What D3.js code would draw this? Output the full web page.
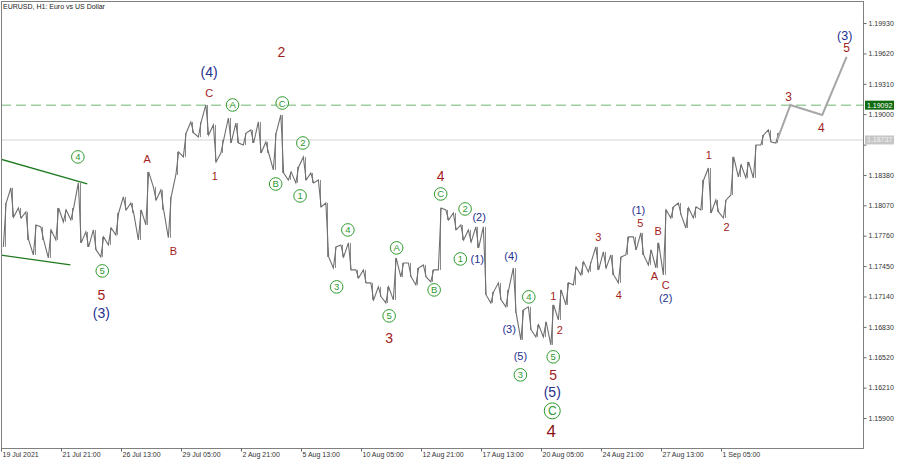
<!DOCTYPE html>
<html>
<head>
<meta charset="utf-8">
<script src="https://cdn.jsdelivr.net/npm/d3@7"></script>
<style>
  body { margin: 0; background: #fff; }
  svg { display: block; }
  text { font-family: "Liberation Sans", Arial, sans-serif; }
</style>
</head>
<body>
<div id="chart"></div>
<script>
// price data, EURUSD H1, one high/low pair per 8 hourly bars
const barsPerChunk = 8;
const highs = [1.18094, 1.18248, 1.18043, 1.18003, 1.17870, 1.17850, 1.17819, 1.18043, 1.18023, 1.18043,
  1.18299, 1.17799, 1.17819, 1.17748, 1.17839, 1.17992, 1.18156, 1.18094, 1.18023, 1.18411,
  1.18258, 1.18227, 1.18156, 1.18615, 1.18808, 1.18921, 1.18921, 1.19094, 1.18890, 1.18737,
  1.18961, 1.18910, 1.18808, 1.18839, 1.18921, 1.18717, 1.18808, 1.18992, 1.18411, 1.18462,
  1.18564, 1.18400, 1.18329, 1.18094, 1.17646, 1.17666, 1.17687, 1.17411, 1.17411, 1.17279,
  1.17238, 1.17238, 1.17533, 1.17482, 1.17482, 1.17431, 1.17462, 1.17411, 1.18043, 1.18023,
  1.17992, 1.17870, 1.17819, 1.17850, 1.17850, 1.17187, 1.17279, 1.17207, 1.17431, 1.17003,
  1.17034, 1.16850, 1.16881, 1.17054, 1.17207, 1.17279, 1.17441, 1.17493, 1.17493, 1.17646,
  1.17595, 1.17564, 1.17544, 1.17748, 1.17748, 1.17789, 1.17615, 1.17687, 1.18023, 1.18054,
  1.18094, 1.18043, 1.18054, 1.18329, 1.18451, 1.18125, 1.18125, 1.18564, 1.18482, 1.18513,
  1.18686, 1.18788, 1.18839, 1.18808];
const lows = [1.17646, 1.17951, 1.17941, 1.17717, 1.17564, 1.17717, 1.17533, 1.17717, 1.17901, 1.17921,
  1.17687, 1.17646, 1.17615, 1.17544, 1.17666, 1.17768, 1.18023, 1.17992, 1.17717, 1.17870,
  1.18125, 1.18023, 1.17739, 1.18380, 1.18564, 1.18808, 1.18767, 1.18788, 1.18513, 1.18604,
  1.18706, 1.18706, 1.18686, 1.18706, 1.18604, 1.18604, 1.18431, 1.18400, 1.18329, 1.18299,
  1.18329, 1.18299, 1.18054, 1.17544, 1.17431, 1.17544, 1.17411, 1.17329, 1.17279, 1.17105,
  1.17136, 1.17074, 1.17105, 1.17340, 1.17340, 1.17258, 1.17340, 1.17289, 1.17411, 1.17921,
  1.17819, 1.17717, 1.17697, 1.17636, 1.17156, 1.17074, 1.17105, 1.17034, 1.16972, 1.16697,
  1.16799, 1.16727, 1.16727, 1.16646, 1.16901, 1.17054, 1.17258, 1.17360, 1.17391, 1.17411,
  1.17431, 1.17360, 1.17279, 1.17564, 1.17615, 1.17564, 1.17462, 1.17431, 1.17360, 1.17941,
  1.17972, 1.17839, 1.17941, 1.18023, 1.17992, 1.18003, 1.17941, 1.18176, 1.18360, 1.18349,
  1.18349, 1.18686, 1.18717, 1.18706];

// projected path (bar index, price)
const forecastBars = [828, 842, 876, 902];
const forecastPrices = [1.18737, 1.19094, 1.18992, 1.19584];

// triangle boundary lines at the left
const wedgeUpper = [[-1, 1.18543], [92, 1.18288]];
const wedgeLower = [[-1, 1.17564], [74, 1.17462]];

const priceTicks = [1.15900, 1.16210, 1.16520, 1.16830, 1.17140, 1.17450, 1.17760,
  1.18070, 1.18380, 1.18690, 1.19000, 1.19310, 1.19620, 1.19930];
const timeTicks = ["19 Jul 2021", "21 Jul 21:00", "26 Jul 13:00", "29 Jul 05:00", "2 Aug 21:00",
  "5 Aug 13:00", "10 Aug 05:00", "12 Aug 21:00", "17 Aug 13:00", "20 Aug 05:00",
  "24 Aug 21:00", "27 Aug 13:00", "1 Sep 05:00"];
const barsPerTick = 64;

const levelPrice = 1.19092;
const lastPrice = 1.18737;

// wave labels: text, bar, price, degree
const waveLabels = [
  ["(4)", 222, 1.19431, "navyBig"], ["2", 299, 1.19635, "redBig"], ["C", 222, 1.19216, "red"],
  ["A", 247, 1.19094, "circle"], ["C", 300, 1.19114, "circle"], ["4", 82, 1.18564, "circle"],
  ["A", 156, 1.18543, "red"], ["1", 228, 1.18370, "red"], ["B", 293, 1.18288, "circle"],
  ["2", 322, 1.18706, "circle"], ["1", 319, 1.18166, "circle"], ["B", 184, 1.17605, "red"],
  ["5", 108, 1.17401, "circle"], ["5", 107, 1.17156, "redBig"], ["(3)", 107, 1.16972, "navyBig"],
  ["4", 370, 1.17819, "circle"], ["A", 422, 1.17636, "circle"], ["3", 358, 1.17238, "circle"],
  ["5", 414, 1.16942, "circle"], ["3", 414, 1.16717, "redBig"], ["4", 469, 1.18370, "redBig"],
  ["C", 469, 1.18186, "circle"], ["2", 495, 1.18033, "circle"], ["(2)", 510, 1.17951, "navy"],
  ["1", 490, 1.17523, "circle"], ["(1)", 508, 1.17523, "navy"], ["B", 462, 1.17207, "circle"],
  ["(4)", 544, 1.17554, "navy"], ["4", 563, 1.17136, "circle"], ["(3)", 542, 1.16809, "navy"],
  ["(5)", 554, 1.16534, "navy"], ["3", 554, 1.16340, "circle"], ["1", 589, 1.17146, "red"],
  ["2", 596, 1.16799, "red"], ["5", 589, 1.16524, "circle"], ["5", 589, 1.16340, "redBig"],
  ["(5)", 588, 1.16167, "navyBig"], ["C", 588, 1.15973, "circleBig"], ["4", 587, 1.15759, "redHuge"],
  ["3", 637, 1.17748, "red"], ["4", 659, 1.17156, "red"], ["(1)", 680, 1.18023, "navy"],
  ["5", 682, 1.17890, "red"], ["B", 701, 1.17809, "red"], ["A", 697, 1.17350, "red"],
  ["C", 709, 1.17258, "red"], ["(2)", 709, 1.17125, "navy"], ["1", 755, 1.18584, "red"],
  ["2", 774, 1.17850, "red"], ["3", 840, 1.19176, "redMid"], ["4", 875, 1.18859, "redMid"],
  ["5", 902, 1.19671, "redMid"], ["(3)", 900, 1.19799, "navyMid"]
];

const W = 900, H = 461;
const plot = { left: 1, top: 1, right: 863, bottom: 448 };

const svg = d3.select("#chart").append("svg")
  .attr("width", W)
  .attr("height", H);

const x = d3.scaleLinear()
  .domain([0, 920])
  .range([plot.left, plot.left + 920 * 60 / 64]);

const y = d3.scaleLinear()
  .domain([1.15594, 1.20165])
  .range([plot.bottom, 0]);

svg.append("clipPath").attr("id", "clip")
  .append("rect")
  .attr("x", plot.left).attr("y", plot.top)
  .attr("width", plot.right - plot.left).attr("height", plot.bottom - plot.top);

// title
svg.append("text")
  .attr("x", 3).attr("y", 9)
  .attr("font-size", 7)
  .attr("fill", "#222")
  .text("EURUSD, H1:  Euro vs US Dollar");

const g = svg.append("g").attr("clip-path", "url(#clip)");

// last price line and level line
g.append("line")
  .attr("x1", plot.left).attr("x2", plot.right)
  .attr("y1", y(lastPrice)).attr("y2", y(lastPrice))
  .attr("stroke", "#d4d4d4").attr("stroke-width", 1);

g.append("line")
  .attr("x1", plot.left).attr("x2", plot.right)
  .attr("y1", y(levelPrice)).attr("y2", y(levelPrice))
  .attr("stroke", "#9fcf9f").attr("stroke-width", 1.5)
  .attr("stroke-dasharray", "10,5");

// wedge lines
[wedgeUpper, wedgeLower].forEach(w => {
  g.append("line")
    .attr("x1", x(w[0][0])).attr("y1", y(w[0][1]))
    .attr("x2", x(w[1][0])).attr("y2", y(w[1][1]))
    .attr("stroke", "#1f7a1f").attr("stroke-width", 1.3);
});

// price path: zigzag through each chunk's high and low
const pts = [];
highs.forEach((hi, k) => {
  const lo = lows[k];
  const mid = (hi + lo) / 2;
  const next = k < highs.length - 1 ? (highs[k + 1] + lows[k + 1]) / 2 : mid;
  const b0 = k * barsPerChunk;
  if (next >= mid) {
    pts.push([b0 + 2.5, lo], [b0 + 5.5, hi]);
  } else {
    pts.push([b0 + 2.5, hi], [b0 + 5.5, lo]);
  }
});

const line = d3.line().x(d => x(d[0])).y(d => y(d[1]));

// range bars, one per chunk
g.append("g")
  .selectAll("line")
  .data(highs)
  .join("line")
  .attr("x1", (d, k) => Math.round(x(k * barsPerChunk + 4)) + 0.5)
  .attr("x2", (d, k) => Math.round(x(k * barsPerChunk + 4)) + 0.5)
  .attr("y1", d => y(d))
  .attr("y2", (d, k) => y(lows[k]))
  .attr("stroke", "#8a8a8a")
  .attr("stroke-width", 1);

g.append("path")
  .datum(pts)
  .attr("fill", "none")
  .attr("stroke", "#6f6f6f")
  .attr("stroke-width", 1.1)
  .attr("d", line);

// forecast
g.append("path")
  .datum(forecastBars.map((b, i) => [b, forecastPrices[i]]))
  .attr("fill", "none")
  .attr("stroke", "#a6a6a6")
  .attr("stroke-width", 2)
  .attr("d", line);

// wave labels
const styles = {
  red: { color: "#a31c1c", size: 11 },
  redMid: { color: "#a31f1f", size: 12 },
  redBig: { color: "#a31c1c", size: 14 },
  redHuge: { color: "#8a1515", size: 17 },
  navy: { color: "#26308f", size: 11 },
  navyMid: { color: "#26308f", size: 12.5 },
  navyBig: { color: "#26308f", size: 14 },
  circle: { color: "#2f9a2f", size: 9.5, r: 6.3 },
  circleBig: { color: "#2f9a2f", size: 12, r: 8 }
};

const lg = svg.append("g");
waveLabels.forEach(([t, b, p, kind]) => {
  const s = styles[kind];
  const cx = x(b), cy = y(p);
  if (s.r) {
    lg.append("circle")
      .attr("cx", cx).attr("cy", cy).attr("r", s.r)
      .attr("fill", "#fff").attr("fill-opacity", 0.6)
      .attr("stroke", s.color).attr("stroke-width", 1);
  }
  lg.append("text")
    .attr("x", cx).attr("y", cy)
    .attr("text-anchor", "middle")
    .attr("dominant-baseline", "central")
    .attr("font-size", s.size)
    .attr("fill", s.color)
    .text(t);
});

// frame
svg.append("rect")
  .attr("x", plot.left + 0.5).attr("y", plot.top + 0.5)
  .attr("width", plot.right - plot.left).attr("height", plot.bottom - plot.top)
  .attr("fill", "none").attr("stroke", "#808080");

// right axis (label under the last-price tag is left out, the tag covers it)
const yAxis = svg.append("g")
  .attr("transform", `translate(${plot.right + 0.5},0)`)
  .call(d3.axisRight(y).tickValues(priceTicks)
    .tickFormat(d => Math.abs(y(d) - y(lastPrice)) < 8 ? "" : d3.format(".5f")(d))
    .tickSize(3).tickSizeOuter(0));
yAxis.select(".domain").remove();
yAxis.selectAll("line").attr("stroke", "#666");
yAxis.selectAll("text")
  .attr("x", 5)
  .attr("font-size", 7)
  .attr("font-family", "Liberation Sans, Arial, sans-serif")
  .attr("fill", "#333");

// bottom axis
const xAxis = svg.append("g")
  .attr("transform", `translate(0,${plot.bottom + 0.5})`)
  .call(d3.axisBottom(x)
    .tickValues(timeTicks.map((_, i) => i * barsPerTick))
    .tickFormat((d, i) => timeTicks[i])
    .tickSize(3).tickSizeOuter(0));
xAxis.select(".domain").remove();
xAxis.selectAll("line").attr("stroke", "#666");
xAxis.selectAll("text")
  .attr("text-anchor", "start")
  .attr("x", 1)
  .attr("y", 4)
  .attr("font-size", 7)
  .attr("font-family", "Liberation Sans, Arial, sans-serif")
  .attr("fill", "#333");

// price tags on the axis
function tag(price, fill, textFill) {
  const cy = y(price);
  svg.append("rect")
    .attr("x", plot.right + 2).attr("y", cy - 4.5)
    .attr("width", 29).attr("height", 9)
    .attr("fill", fill);
  svg.append("text")
    .attr("x", plot.right + 4).attr("y", cy)
    .attr("dominant-baseline", "central")
    .attr("font-size", 7)
    .attr("fill", textFill)
    .text(d3.format(".5f")(price));
}
tag(levelPrice, "#0f6b0f", "#fff");
tag(lastPrice, "#c6c6c6", "#f4f4f4");
</script>
</body>
</html>
